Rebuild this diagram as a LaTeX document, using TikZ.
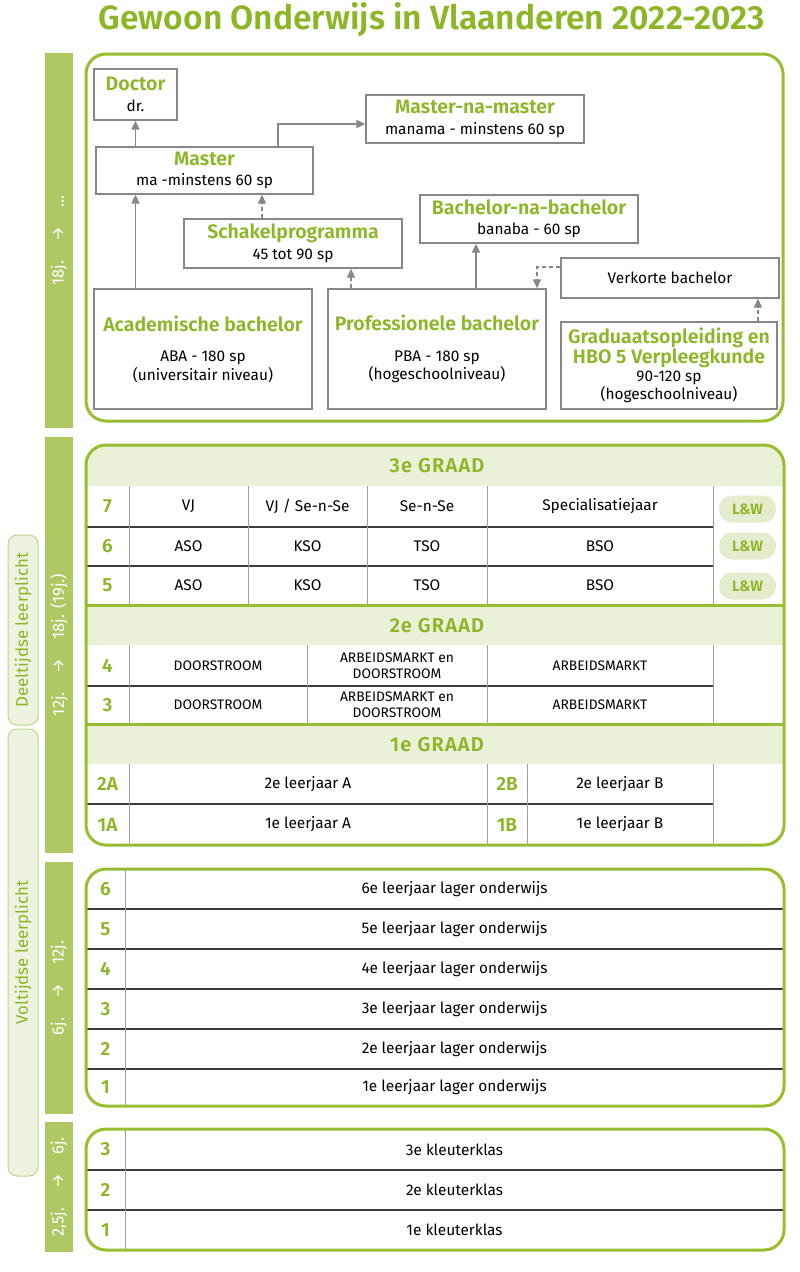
\documentclass[tikz,border=0pt]{standalone}
\usepackage{fontspec}
\setmainfont{Fira Sans}
\newfontfamily\semibold{Fira Sans SemiBold}
\newfontfamily\graadsemibold{Fira Sans SemiBold}[LetterSpace=6]
\usepackage{xcolor}
\definecolor{vlgreen}{RGB}{152,190,48}
\definecolor{vltitle}{RGB}{140,182,38}
\definecolor{vlbar}{RGB}{176,200,100}
\definecolor{vllight}{RGB}{234,241,216}
\definecolor{vlpill}{RGB}{228,236,205}
\definecolor{vlside}{RGB}{237,243,222}
\definecolor{vlsidedraw}{RGB}{190,212,140}
\definecolor{vlgray}{RGB}{135,135,135}
\definecolor{vldark}{RGB}{60,60,60}
\usepackage{tikz}
\usetikzlibrary{arrows.meta, calc}

\newcommand{\bodyfont}{\fontsize{15.4}{18.5}\selectfont}
\newcommand{\boxhead}[1]{{\semibold\fontsize{19.5}{22}\selectfont\color{vltitle}#1}}
\newcommand{\agegap}{\hspace{19pt}}

\begin{document}
\begin{tikzpicture}[x=1pt, y=-1pt,
  every node/.style={font=\bodyfont},
  box/.style={rectangle, draw=vlgray, line width=1.3pt, fill=white, inner sep=0pt, align=center},
  arr/.style={-{Triangle[length=9pt, width=8pt]}, line width=1.8pt, draw=vlgray},
  darr/.style={-{Triangle[length=9pt, width=8pt]}, line width=1.3pt, draw=vlgray, dash pattern=on 4pt off 3pt},
  frame/.style={draw=vlgreen, line width=3pt, rounded corners=20pt},
  agebar/.style={rectangle, fill=vlbar, rotate=90, minimum height=28pt, inner sep=0pt,
                 text=white, font=\fontsize{16.5}{18}\selectfont},
  plicht/.style={rectangle, rounded corners=9pt, draw=vlsidedraw, line width=1pt, fill=vlside, rotate=90,
                 minimum height=30pt, inner sep=0pt, text=vltitle, font=\fontsize{16.8}{19}\selectfont},
  num/.style={text=vltitle, font=\semibold\fontsize{19}{21}\selectfont},
  graad/.style={text=vltitle, font=\graadsemibold\fontsize{20}{22}\selectfont},
  pill/.style={rectangle, rounded corners=13pt, fill=vlpill, minimum width=57pt, minimum height=27pt,
               inner sep=0pt, text=vltitle, font=\semibold\fontsize{15}{17}\selectfont},
  caps/.style={font=\fontsize{13.8}{16}\selectfont, align=center},
  rowline/.style={draw=vldark, line width=1.2pt},
  colline/.style={draw=vlgray!80, line width=1pt},
  greenline/.style={draw=vlgreen, line width=3pt}
]
\useasboundingbox (0,0) rectangle (800,1272);

% Title
\node[text=vltitle, font=\semibold\fontsize{33.6}{38}\selectfont] (title) at (432,20)
  {Gewoon Onderwijs in Vlaanderen 2022-2023};

% Age bars
\node[agebar, minimum width=375pt] (bar1) at (59,240.5) {18j.\agegap→\agegap...};
\node[agebar, minimum width=416pt] (bar2) at (59,645) {12j.\agegap→\agegap18j. (19j.)};
\node[agebar, minimum width=252pt] (bar3) at (59,988) {6j.\agegap→\agegap12j.};
\node[agebar, minimum width=130pt] (bar4) at (59,1187) {2,5j.\agegap→\agegap6j.};

% Leerplicht labels
\node[plicht, minimum width=190pt] (deeltijds) at (23,630) {Deeltijdse leerplicht};
\node[plicht, minimum width=447pt] (voltijds) at (23,952.5) {Voltijdse leerplicht};

% Higher education
\node[box, minimum width=83pt, minimum height=51pt] (doctor) at (135.5,94.5)
  {\boxhead{Doctor}\\[3pt]dr.};
\node[box, minimum width=217pt, minimum height=47pt] (master) at (204.5,170.5)
  {\boxhead{Master}\\[1pt]ma -minstens 60 sp};
\node[box, minimum width=218pt, minimum height=48pt] (manama) at (475,119)
  {\boxhead{Master-na-master}\\[3pt]manama - minstens 60 sp};
\node[box, minimum width=218pt, minimum height=49pt] (schakel) at (293,243.5)
  {\boxhead{Schakelprogramma}\\[3pt]45 tot 90 sp};
\node[box, minimum width=218pt, minimum height=48pt] (banaba) at (529,219)
  {\boxhead{Bachelor-na-bachelor}\\[2pt]banaba - 60 sp};
\node[box, minimum width=218pt, minimum height=40pt] (verkort) at (670,278)
  {Verkorte bachelor};
\node[box, minimum width=218pt, minimum height=120pt] (aba) at (203,349)
  {\boxhead{Academische bachelor}\\[12pt]ABA - 180 sp\\(universitair niveau)};
\node[box, minimum width=218pt, minimum height=120pt] (pba) at (437,349)
  {\boxhead{Professionele bachelor}\\[12pt]PBA - 180 sp\\(hogeschoolniveau)};
\node[box, minimum width=216pt, minimum height=87pt] (graduaat) at (669,365.5)
  {\boxhead{Graduaatsopleiding en}\\\boxhead{HBO 5 Verpleegkunde}\\[-1pt]90-120 sp\\(hogeschoolniveau)};

\draw[arr] (aba.north -| doctor.south) -- (master.south -| doctor.south);
\draw[arr] (master.north -| doctor.south) -- (doctor.south);
\draw[arr] ([xshift=73.5pt]master.north) |- ([yshift=-5pt]manama.west);
\draw[darr] ([xshift=-31pt]schakel.north) -- ([xshift=-31pt]schakel.north |- master.south);
\draw[darr] ([xshift=-86pt]pba.north) -- ([xshift=-86pt]pba.north |- schakel.south);
\draw[arr] ([xshift=39pt]pba.north) -- ([xshift=39pt]pba.north |- banaba.south);
\draw[darr] ([yshift=11pt]verkort.west) -| ([xshift=100pt]pba.north);
\draw[darr] ([xshift=89pt]graduaat.north) -- ([xshift=89pt]graduaat.north |- verkort.south);

\draw[frame] (86,54) rectangle (783,421);

% Secondary education
\begin{scope}
  \clip[rounded corners=20pt] (86,445) rectangle (784,845);
  \fill[vllight] (86,445) rectangle (784,486);
  \fill[vllight] (86,605) rectangle (784,645);
  \fill[vllight] (86,724) rectangle (784,764);
\end{scope}
\foreach \y in {527,566,686,804} \draw[rowline] (86,\y) -- (713,\y);
\foreach \x in {129,248,367,487,713} \draw[colline] (\x,486) -- (\x,605);
\foreach \x in {129,307,487,713} \draw[colline] (\x,645) -- (\x,724);
\foreach \x in {129,487,527,713} \draw[colline] (\x,764) -- (\x,845);
\draw[greenline] (86,605) -- (784,605);
\draw[greenline] (86,724) -- (784,724);

\node[graad] (graad3) at (437,466) {3e GRAAD};
\node[num] (n7) at (107.5,506.5) {7};
\node (vj) at (188.5,506.5) {VJ};
\node (vjsns) at (307.5,506.5) {VJ / Se-n-Se};
\node (sns) at (427,506.5) {Se-n-Se};
\node (spec) at (600,506.5) {Specialisatiejaar};
\node[pill] (lw7) at (747.5,509) {L\&W};
\node[num] (n6) at (107.5,546.5) {6};
\node (aso6) at (188.5,546.5) {ASO};
\node (kso6) at (307.5,546.5) {KSO};
\node (tso6) at (427,546.5) {TSO};
\node (bso6) at (600,546.5) {BSO};
\node[pill] (lw6) at (747.5,546) {L\&W};
\node[num] (n5) at (107.5,585.5) {5};
\node (aso5) at (188.5,585.5) {ASO};
\node (kso5) at (307.5,585.5) {KSO};
\node (tso5) at (427,585.5) {TSO};
\node (bso5) at (600,585.5) {BSO};
\node[pill] (lw5) at (747.5,586) {L\&W};

\node[graad] (graad2) at (437,626) {2e GRAAD};
\node[num] (n4) at (107.5,665.5) {4};
\node[caps] (door4) at (218,665.5) {DOORSTROOM};
\node[caps] (ad4) at (397,665.5) {ARBEIDSMARKT en\\DOORSTROOM};
\node[caps] (arb4) at (600,665.5) {ARBEIDSMARKT};
\node[num] (n3) at (107.5,705) {3};
\node[caps] (door3) at (218,705) {DOORSTROOM};
\node[caps] (ad3) at (397,705) {ARBEIDSMARKT en\\DOORSTROOM};
\node[caps] (arb3) at (600,705) {ARBEIDSMARKT};

\node[graad] (graad1) at (437,745) {1e GRAAD};
\node[num] (n2a) at (107.5,784) {2A};
\node (lj2a) at (308,784) {2e leerjaar A};
\node[num] (n2b) at (507,784) {2B};
\node (lj2b) at (620,784) {2e leerjaar B};
\node[num] (n1a) at (107.5,824.5) {1A};
\node (lj1a) at (308,824.5) {1e leerjaar A};
\node[num] (n1b) at (507,824.5) {1B};
\node (lj1b) at (620,824.5) {1e leerjaar B};

\draw[frame] (86,445) rectangle (784,845);

% Primary education
\foreach \y in {909,949,989,1029,1069} \draw[rowline] (86,\y) -- (784,\y);
\draw[colline] (125,869) -- (125,1106);
\foreach \n/\y in {6/889,5/929,4/969,3/1009,2/1049,1/1087.5} {
  \node[num] (p\n) at (105.5,\y) {\n};
  \node (lager\n) at (454.5,\y) {\n e leerjaar lager onderwijs};
}
\draw[frame] (86,869) rectangle (784,1106);

% Kindergarten
\foreach \y in {1170,1210} \draw[rowline] (86,\y) -- (784,\y);
\draw[colline] (125,1129) -- (125,1250);
\foreach \n/\y in {3/1149.5,2/1190,1/1230} {
  \node[num] (k\n) at (105.5,\y) {\n};
  \node (kleuter\n) at (454.5,\y) {\n e kleuterklas};
}
\draw[frame] (86,1129) rectangle (784,1250);
\end{tikzpicture}
\end{document}
